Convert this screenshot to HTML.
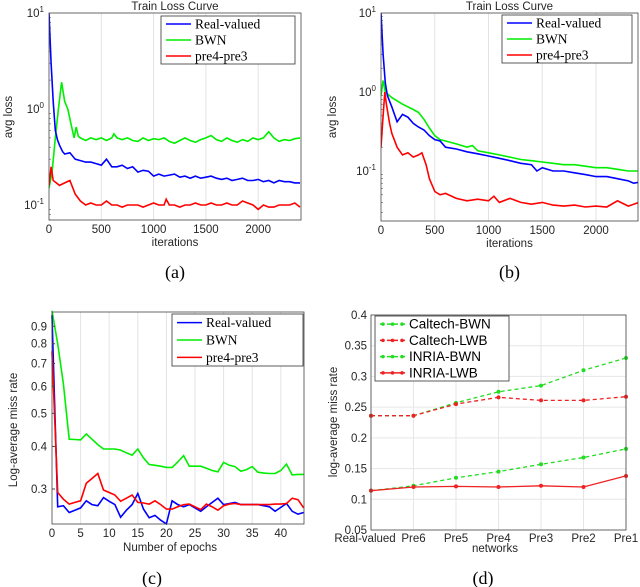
<!DOCTYPE html>
<html><head><meta charset="utf-8"><style>
html,body{margin:0;padding:0;background:#fff;}
svg{display:block;font-family:"Liberation Sans",sans-serif;}
.tk{font-size:11.5px;fill:#262626;}
.lg{font-family:"Liberation Serif",serif;font-size:13.5px;fill:#000;}
.cap{font-family:"Liberation Serif",serif;font-size:18px;fill:#000;}
</style></head><body>
<svg id="fig" width="640" height="587" viewBox="0 0 640 587"></svg>
<script>
// ---- Panel (a) data ----
const aIterBlue=[0,20,40,60,80,100,130,150,200,250,300,350,400,450,500,550,600,650,700,750,800,850,900,950,1000,1050,1100,1150,1200,1250,1300,1350,1400,1450,1500,1550,1600,1650,1700,1750,1800,1850,1900,1950,2000,2050,2100,2150,2200,2250,2300,2350,2400];
const aBlue=[10,3,1.2,0.6,0.48,0.42,0.36,0.34,0.35,0.3,0.29,0.28,0.28,0.27,0.26,0.3,0.25,0.25,0.26,0.24,0.25,0.22,0.23,0.225,0.2,0.21,0.2,0.205,0.21,0.195,0.2,0.19,0.2,0.19,0.195,0.2,0.19,0.185,0.19,0.18,0.185,0.19,0.18,0.18,0.185,0.175,0.18,0.17,0.18,0.175,0.175,0.17,0.17];
const aIterGreen=[0,30,60,90,120,150,180,210,240,260,280,300,350,400,450,500,550,600,620,650,700,750,800,850,900,950,1000,1050,1100,1150,1200,1250,1300,1350,1400,1450,1500,1550,1600,1650,1700,1750,1800,1850,1900,1950,2000,2050,2100,2150,2200,2250,2300,2350,2400];
const aGreen=[0.15,0.22,0.5,1.0,1.9,1.2,1.0,0.7,0.5,0.65,0.52,0.5,0.47,0.5,0.48,0.5,0.47,0.5,0.55,0.5,0.48,0.5,0.47,0.46,0.5,0.47,0.49,0.48,0.5,0.46,0.44,0.47,0.5,0.47,0.45,0.48,0.5,0.53,0.48,0.46,0.5,0.47,0.45,0.48,0.46,0.5,0.48,0.5,0.58,0.5,0.46,0.48,0.47,0.49,0.5];
const aIterRed=[0,20,40,70,100,150,200,250,300,350,400,450,500,550,600,650,700,750,800,850,900,950,1000,1050,1100,1120,1150,1200,1250,1300,1350,1400,1450,1500,1550,1600,1650,1700,1750,1800,1850,1900,1950,2000,2050,2100,2150,2200,2250,2300,2350,2400];
const aRed=[0.16,0.25,0.18,0.17,0.16,0.17,0.18,0.13,0.11,0.1,0.105,0.1,0.1,0.11,0.1,0.1,0.095,0.1,0.1,0.1,0.095,0.1,0.105,0.1,0.1,0.115,0.1,0.1,0.095,0.1,0.1,0.105,0.1,0.1,0.105,0.1,0.1,0.105,0.1,0.1,0.11,0.105,0.1,0.09,0.1,0.095,0.095,0.1,0.1,0.1,0.105,0.095];
// ---- Panel (b) data ----
const bIterBlue=[0,20,40,60,100,150,200,250,300,350,400,450,500,550,600,700,800,900,1000,1100,1200,1300,1400,1450,1500,1600,1700,1800,1900,2000,2100,2200,2300,2350,2400];
const bBlue=[10,3,1.3,0.9,0.65,0.42,0.52,0.48,0.4,0.36,0.33,0.28,0.25,0.24,0.2,0.19,0.175,0.165,0.155,0.145,0.135,0.125,0.12,0.1,0.11,0.1,0.1,0.095,0.09,0.085,0.085,0.08,0.075,0.07,0.072];
const bIterGreen=[0,20,40,60,100,200,300,350,400,450,500,550,600,700,800,850,900,1000,1100,1200,1300,1400,1500,1600,1700,1800,1900,2000,2100,2200,2300,2400];
const bGreen=[0.9,1.4,1.0,0.95,0.85,0.7,0.6,0.55,0.45,0.35,0.28,0.25,0.24,0.22,0.2,0.21,0.18,0.17,0.16,0.15,0.14,0.135,0.13,0.125,0.12,0.12,0.115,0.11,0.11,0.105,0.1,0.1];
const bIterRed=[0,20,35,50,80,100,150,200,250,300,350,380,420,450,500,550,600,700,800,900,1000,1050,1100,1200,1300,1400,1500,1600,1700,1800,1900,2000,2100,2200,2300,2400];
const bRed=[0.2,0.5,1.0,0.7,0.4,0.3,0.2,0.16,0.17,0.15,0.16,0.17,0.12,0.08,0.055,0.05,0.052,0.045,0.042,0.044,0.042,0.048,0.04,0.045,0.04,0.038,0.04,0.037,0.036,0.037,0.035,0.036,0.035,0.042,0.036,0.04];
// ---- Panel (c) data ----
const cBlue=[0.97,0.266,0.268,0.256,0.26,0.264,0.277,0.27,0.268,0.283,0.276,0.27,0.248,0.26,0.27,0.291,0.262,0.247,0.251,0.243,0.237,0.277,0.27,0.266,0.27,0.264,0.258,0.266,0.274,0.282,0.27,0.272,0.274,0.27,0.27,0.27,0.27,0.268,0.266,0.258,0.265,0.272,0.258,0.253,0.256];
const cGreen=[1.0,0.8,0.61,0.42,0.419,0.418,0.435,0.42,0.405,0.393,0.393,0.393,0.39,0.383,0.377,0.393,0.37,0.354,0.352,0.35,0.347,0.347,0.36,0.376,0.35,0.35,0.35,0.345,0.34,0.337,0.359,0.352,0.349,0.338,0.342,0.349,0.336,0.334,0.333,0.333,0.34,0.355,0.33,0.331,0.331];
const cRed=[0.76,0.293,0.28,0.271,0.274,0.277,0.312,0.322,0.333,0.298,0.293,0.288,0.276,0.282,0.288,0.274,0.273,0.271,0.277,0.27,0.262,0.262,0.266,0.27,0.271,0.266,0.261,0.271,0.266,0.26,0.268,0.271,0.272,0.27,0.27,0.27,0.27,0.27,0.27,0.271,0.271,0.272,0.282,0.279,0.264];
// ---- Panel (d) data ----
const dCats=["Real-valued","Pre6","Pre5","Pre4","Pre3","Pre2","Pre1"];
const dCalBWN=[0.236,0.236,0.257,0.275,0.285,0.31,0.33];
const dCalLWB=[0.236,0.236,0.255,0.266,0.261,0.261,0.267];
const dInrBWN=[0.114,0.122,0.135,0.145,0.157,0.168,0.182];
const dInrLWB=[0.114,0.12,0.121,0.12,0.122,0.12,0.138];
const dYTicks=[0.05,0.1,0.15,0.2,0.25,0.3,0.35,0.4];

const NS="http://www.w3.org/2000/svg";
const svg=document.getElementById('fig');
function el(tag,attrs,parent,text){const e=document.createElementNS(NS,tag);for(const k in attrs)e.setAttribute(k,attrs[k]);if(text!==undefined)e.textContent=text;(parent||svg).appendChild(e);return e;}
const BLUE="#0000ff",GREEN="#00ee00",RED="#ff0000";

function logAxis(v,yTop,decade,topExp){return yTop+(topExp-Math.log10(v))*decade;}

function drawLine(g,xs,ys,fx,fy,color,name,dash,w){
  const p=xs.map((x,i)=>fx(x).toFixed(1)+","+fy(ys[i]).toFixed(1)).join(" ");
  const l=el('polyline',{points:p,fill:'none',stroke:color,'stroke-width':w||1.6,'stroke-dasharray':dash||'none'},g);
  
  
  return l;
}
function legend(g,x,y,w,h,items,cls,font){
  const box=el('rect',{x:x,y:y,width:w,height:h,fill:'#fff',stroke:'#333','stroke-width':0.8},g);
  
  
  const step=h/items.length;
  items.forEach((it,i)=>{
    const cy=y+step*(i+0.5);
    const gg=el('g',{},g);
    
    
    el('line',{x1:x+5,x2:x+30,y1:cy,y2:cy,stroke:it.c,'stroke-width':1.5,'stroke-dasharray':it.dash||'none'},gg);
    if(it.m){[x+8,x+17.5,x+27].forEach(mx=>el('circle',{cx:mx,cy:cy,r:1.8,fill:it.c},gg));}
    el('text',{x:x+34,y:cy+4.5,class:cls,style:font||''},gg,it.t);
  });
}

function lossPanel(o){
  const g=el('g',{});
  
  
  const fx=v=>o.x0+(v/500)*o.xs;
  const fy=v=>logAxis(v,o.top,o.dec,1);
  [500,1000,1500,2000].forEach(t=>el('line',{x1:fx(t),x2:fx(t),y1:o.top,y2:o.bot,stroke:'#e3e3e3','stroke-width':1},g));
  for(let e=-2;e<=0;e++)for(let m=2;m<=9;m++){const v=m*Math.pow(10,e);const y=fy(v);if(y>o.top&&y<o.bot){el('line',{x1:o.x0,x2:o.x0+2,y1:y,y2:y,stroke:'#555','stroke-width':0.6},g);}}
  const series=el('g',{},g);
  
  
  const cp=el('clipPath',{id:'clip'+o.name},g);el('rect',{x:o.x0,y:o.top,width:o.x1-o.x0,height:o.bot-o.top},cp);
  series.setAttribute('clip-path','url(#clip'+o.name+')');
  drawLine(series,o.gx,o.gv,fx,fy,GREEN,'bwn-line');
  drawLine(series,o.bx,o.bv,fx,fy,BLUE,'real-valued-line');
  drawLine(series,o.rx,o.rv,fx,fy,RED,'pre4-pre3-line');
  const fr=el('rect',{x:o.x0,y:o.top,width:o.x1-o.x0,height:o.bot-o.top,fill:'none',stroke:'#444','stroke-width':0.8},g);
  
  [0,500,1000,1500,2000].forEach(t=>el('text',{x:fx(t),y:o.bot+13,'text-anchor':'middle',class:'tk'},g,String(t)));
  [1,0,-1].forEach(e=>{const y=fy(Math.pow(10,e));if(y<=o.bot+1){const t=el('text',{x:o.x0-5,y:y+4,'text-anchor':'end',class:'tk'},g);t.textContent='10';el('tspan',{dy:-5,'font-size':8},t,e===-1?'-1':String(e));}});
  el('text',{x:(o.x0+o.x1)/2,y:o.top-3,'text-anchor':'middle',class:'tk','font-size':11.5},g,'Train Loss Curve');
  el('text',{x:(o.x0+o.x1)/2,y:o.bot+26,'text-anchor':'middle',class:'tk','font-size':12.5},g,'iterations');
  el('text',{x:o.ylx,y:117,'text-anchor':'middle',class:'tk','font-size':12.5,transform:'rotate(-90 '+o.ylx+' 117)'},g,'avg loss');
  legend(g,o.lx,o.ly,o.lw,48,[{t:'Real-valued',c:BLUE},{t:'BWN',c:GREEN},{t:'pre4-pre3',c:RED}],'lg');
  el('text',{x:(o.x0+o.x1)/2,y:278,'text-anchor':'middle',class:'cap'},g,o.cap);
}
lossPanel({name:'panel-a',x0:49,x1:301,top:13,bot:220,dec:96,xs:52.3,gx:aIterGreen,gv:aGreen,bx:aIterBlue,bv:aBlue,rx:aIterRed,rv:aRed,ylx:12,lx:161,ly:16,lw:134,cap:'(a)'});
lossPanel({name:'panel-b',x0:381,x1:638,top:13,bot:221,dec:79,xs:53.75,gx:bIterGreen,gv:bGreen,bx:bIterBlue,bv:bBlue,rx:bIterRed,rv:bRed,ylx:336,lx:502,ly:15,lw:130,cap:'(b)'});

// Panel (c)
(function(){
  const g=el('g',{});
  
  
  const x0=52,x1=304,top=312,bot=524;
  const fx=e=>x0+e*5.72;
  const fy=v=>489-Math.log10(v/0.3)*341;
  [5,10,15,20,25,30,35,40].forEach(t=>el('line',{x1:fx(t),x2:fx(t),y1:top,y2:bot,stroke:'#e3e3e3'},g));
  const ep=cBlue.map((_,i)=>i);
  drawLine(g,ep,cGreen,fx,fy,GREEN,'bwn-line');
  drawLine(g,ep,cBlue,fx,fy,BLUE,'real-valued-line');
  drawLine(g,ep,cRed,fx,fy,RED,'pre4-pre3-line');
  const fr=el('rect',{x:x0,y:top,width:x1-x0,height:bot-top,fill:'none',stroke:'#444','stroke-width':0.8},g);
  
  [0,5,10,15,20,25,30,35,40].forEach(t=>el('text',{x:fx(t),y:bot+13,'text-anchor':'middle',class:'tk'},g,String(t)));
  [0.3,0.4,0.5,0.6,0.7,0.8,0.9].forEach(v=>{el('text',{x:x0-5,y:fy(v)+4,'text-anchor':'end',class:'tk'},g,String(v));el('line',{x1:x0,x2:x0+3,y1:fy(v),y2:fy(v),stroke:'#444'},g);});
  el('text',{x:170,y:551,'text-anchor':'middle',class:'tk','font-size':12.5},g,'Number of epochs');
  el('text',{x:17,y:430,'text-anchor':'middle',class:'tk','font-size':12,transform:'rotate(-90 17 430)'},g,'Log-average miss rate');
  legend(g,172,314,131,52,[{t:'Real-valued',c:BLUE},{t:'BWN',c:GREEN},{t:'pre4-pre3',c:RED}],'lg');
  el('text',{x:152,y:584,'text-anchor':'middle',class:'cap'},g,'(c)');
})();

// Panel (d)
(function(){
  const g=el('g',{});
  
  
  const x0=371,x1=626,top=315,bot=530;
  const fx=i=>x0+i*(x1-x0)/(dCats.length-1);
  const fy=v=>bot-(v-0.05)/0.35*(bot-top);
  dYTicks.forEach(v=>el('line',{x1:x0,x2:x1,y1:fy(v),y2:fy(v),stroke:'#e6e6e6'},g));
  dCats.forEach((c,i)=>el('line',{x1:fx(i),x2:fx(i),y1:top,y2:bot,stroke:'#e6e6e6'},g));
  const idx=dCats.map((_,i)=>i);
  const sets=[[dCalBWN,'#22dd22','4,3','caltech-bwn-line'],[dCalLWB,'#ee2222','4,3','caltech-lwb-line'],[dInrBWN,'#22dd22','4,3','inria-bwn-line'],[dInrLWB,'#ee2222','none','inria-lwb-line']];
  sets.forEach(s=>{drawLine(g,idx,s[0],fx,fy,s[1],s[3],s[2],1.3);s[0].forEach((v,i)=>{const c=el('circle',{cx:fx(i),cy:fy(v),r:2,fill:s[1]},g);});});
  const fr=el('rect',{x:x0,y:top,width:x1-x0,height:bot-top,fill:'none',stroke:'#444','stroke-width':0.8},g);
  
  dYTicks.forEach(v=>el('text',{x:x0-4,y:fy(v)+4,'text-anchor':'end',class:'tk','font-size':10},g,String(v)));
  dCats.forEach((c,i)=>el('text',{x:fx(i)-(i===0?6:0),y:bot+12,'text-anchor':'middle',class:'tk','font-size':10},g,c));
  el('text',{x:495,y:552,'text-anchor':'middle',class:'tk','font-size':11},g,'networks');
  el('text',{x:337,y:422,'text-anchor':'middle',class:'tk','font-size':9,transform:'rotate(-90 337 422)'},g,'log-average miss rate');
  legend(g,375,316,134,65,[{t:'Caltech-BWN',c:'#22dd22',dash:'4,3',m:1},{t:'Caltech-LWB',c:'#ee2222',dash:'4,3',m:1},{t:'INRIA-BWN',c:'#22dd22',dash:'4,3',m:1},{t:'INRIA-LWB',c:'#ee2222',m:1}],'tk','font-size:13.5px;fill:#000');
  el('text',{x:483,y:584,'text-anchor':'middle',class:'cap'},g,'(d)');
})();
</script>
</body></html>
